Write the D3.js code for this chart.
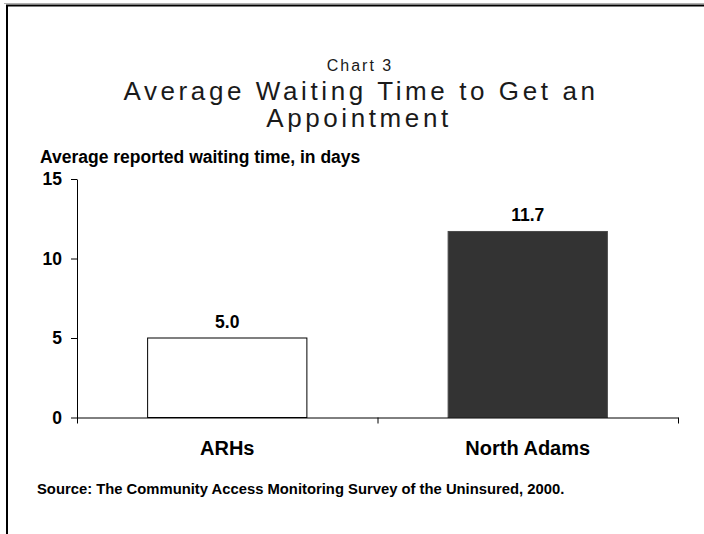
<!DOCTYPE html>
<meta charset="utf-8">
<style>
body { margin: 0; background: #fff; }
text { font-family: "Liberation Sans", Arial, sans-serif; fill: #000; }
.bold { font-weight: bold; }
.title { fill: #1a1a1a; }
.axis path, .axis line { stroke: #000; }
</style>
<svg width="704" height="534"></svg>
<script src="https://cdn.jsdelivr.net/npm/d3@7/dist/d3.min.js"></script>
<script>
// data
var categories = ["ARHs", "North Adams"];
var waitDays = [5.0, 11.7];
var barFills = ["#ffffff", "#333333"];
var barStrokes = ["#000000", "#4a4a4a"];
var yTicks = [0, 5, 10, 15];

var svg = d3.select("svg"),
    margin = {top: 179, right: 26, bottom: 116.5, left: 77},
    width = +svg.attr("width") - margin.left - margin.right,
    height = +svg.attr("height") - margin.top - margin.bottom,
    g = svg.append("g").attr("transform", "translate(" + margin.left + "," + margin.top + ")");

// frame (only top and left edges show in the picture)
svg.append("line").attr("x1", 4).attr("x2", 704).attr("y1", 3.5).attr("y2", 3.5)
    .attr("stroke", "#b0b0b0").attr("stroke-width", 1);
svg.append("line").attr("x1", 6).attr("x2", 704).attr("y1", 5.5).attr("y2", 5.5)
    .attr("stroke", "#000").attr("stroke-width", 2);
svg.append("line").attr("x1", 7).attr("x2", 7).attr("y1", 5).attr("y2", 534)
    .attr("stroke", "#000").attr("stroke-width", 2);

// titles
svg.append("text").attr("class", "title").attr("x", 360).attr("y", 71).attr("text-anchor", "middle")
    .style("font-size", "16px").style("letter-spacing", "2px").text("Chart 3");
svg.append("text").attr("class", "title").attr("x", 361).attr("y", 100).attr("text-anchor", "middle")
    .style("font-size", "26px").style("letter-spacing", "3.6px").text("Average Waiting Time to Get an");
svg.append("text").attr("class", "title").attr("x", 359).attr("y", 127).attr("text-anchor", "middle")
    .style("font-size", "26px").style("letter-spacing", "3.6px").text("Appointment");

svg.append("text").attr("class", "bold").attr("x", 40).attr("y", 163)
    .style("font-size", "17.5px").text("Average reported waiting time, in days");

// scales
var x = d3.scaleBand().domain(categories).range([0, width]).paddingInner(0.47).paddingOuter(0.235),
    xEdge = d3.scaleLinear().domain([0, categories.length]).range([0, width]),
    y = d3.scaleLinear().domain([0, 15]).range([height, 0]);

// y axis
var yAxis = g.append("g")
    .attr("class", "axis axis--y")
    .call(d3.axisLeft(y).tickValues(yTicks).tickSize(6).tickSizeOuter(0).tickPadding(9));
yAxis.select(".domain").attr("stroke", "#333");
yAxis.selectAll("text").attr("class", "bold").style("font-size", "17.5px").style("font-family", null);

// bars
g.selectAll(".bar")
    .data(waitDays)
    .enter().append("rect")
      .attr("class", "bar")
      .attr("x", function(d, i) { return x(categories[i]); })
      .attr("y", function(d) { return y(d); })
      .attr("width", x.bandwidth())
      .attr("height", function(d) { return height - y(d); })
      .attr("fill", function(d, i) { return barFills[i]; })
      .attr("stroke", function(d, i) { return barStrokes[i]; })
      .attr("stroke-width", 1);

// value labels
g.selectAll(".value")
    .data(waitDays)
    .enter().append("text")
      .attr("class", "value bold")
      .attr("x", function(d, i) { return x(categories[i]) + x.bandwidth() / 2; })
      .attr("y", function(d) { return y(d) - 10; })
      .attr("text-anchor", "middle")
      .style("font-size", "17.5px")
      .text(function(d) { return d.toFixed(1); });

// x axis with ticks on category boundaries
g.append("g")
    .attr("class", "axis axis--x")
    .attr("transform", "translate(0," + height + ")")
    .call(d3.axisBottom(xEdge).tickValues(d3.range(categories.length + 1)).tickSize(6).tickSizeOuter(0).tickFormat(""));

g.selectAll(".cat")
    .data(categories)
    .enter().append("text")
      .attr("class", "cat bold")
      .attr("x", function(d) { return x(d) + x.bandwidth() / 2; })
      .attr("y", height + 37)
      .attr("text-anchor", "middle")
      .style("font-size", "20px")
      .text(function(d) { return d; });

svg.append("text").attr("class", "bold").attr("x", 37).attr("y", 494)
    .style("font-size", "14.8px").text("Source: The Community Access Monitoring Survey of the Uninsured, 2000.");
</script>
